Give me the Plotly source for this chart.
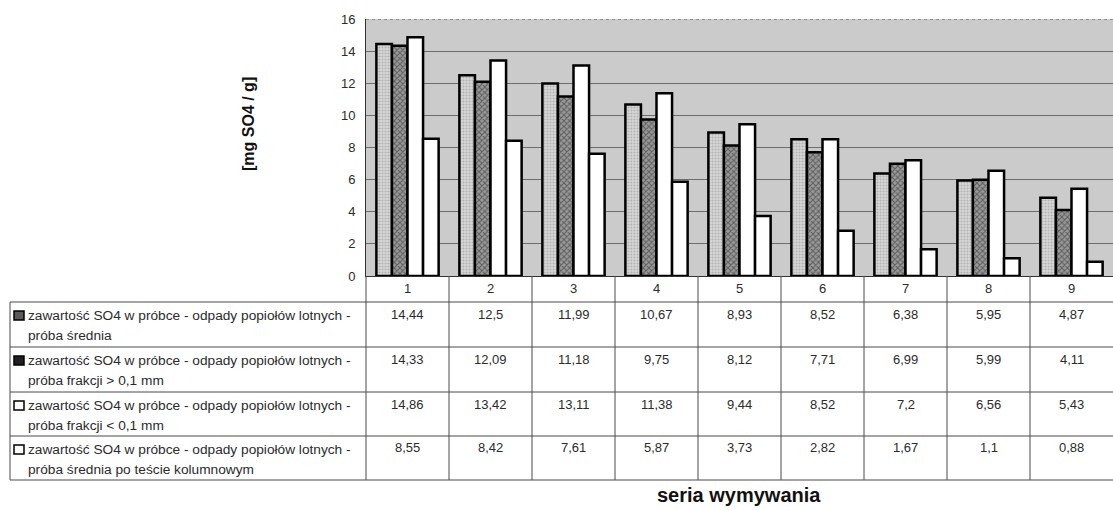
import plotly.graph_objects as go

categories = ["1", "2", "3", "4", "5", "6", "7", "8", "9"]
s_srednia = [14.44, 12.5, 11.99, 10.67, 8.93, 8.52, 6.38, 5.95, 4.87]
s_frakcja_gt = [14.33, 12.09, 11.18, 9.75, 8.12, 7.71, 6.99, 5.99, 4.11]
s_frakcja_lt = [14.86, 13.42, 13.11, 11.38, 9.44, 8.52, 7.2, 6.56, 5.43]
s_po_tescie = [8.55, 8.42, 7.61, 5.87, 3.73, 2.82, 1.67, 1.1, 0.88]

label_line1 = "zawartość SO4 w próbce - odpady popiołów lotnych -"
label_line2 = ["próba średnia", "próba frakcji &gt; 0,1 mm",
               "próba frakcji &lt; 0,1 mm", "próba średnia po teście kolumnowym"]
y_title = "[mg SO4 / g]"
x_title = "seria wymywania"

series = [s_srednia, s_frakcja_gt, s_frakcja_lt, s_po_tescie]

W, H = 1113, 510
L, T, B = 366, 19, 234
PW = W - L
PH = H - T - B
FONT = "Liberation Sans, Arial, sans-serif"
TXT = "#2b2b2b"


def px_x(px):
    return (px - L) / PW


def px_y(py):
    return (H - B - py) / PH


xs = list(range(1, len(categories) + 1))

styles = [
    dict(color="#d0d0d0", pattern=dict(shape=".", fgcolor="#8c8c8c", bgcolor="#d8d8d8", size=3, solidity=0.4)),
    dict(color="#7a7a7a", pattern=dict(shape="x", fgcolor="#202020", bgcolor="#9a9a9a", size=4, solidity=0.45)),
    dict(color="#ffffff"),
    dict(color="#ffffff"),
]

fig = go.Figure()
for vals, st in zip(series, styles):
    m = dict(st)
    m["line"] = dict(color="#000000", width=2.5)
    fig.add_trace(go.Bar(x=xs, y=vals, marker=m, showlegend=False))

fig.update_layout(
    width=W, height=H,
    margin=dict(l=L, r=0, t=T, b=B, pad=0),
    paper_bgcolor="white",
    plot_bgcolor="#cbcbcb",
    barmode="group", bargap=0.25, bargroupgap=0.0,
    font=dict(family=FONT, size=13, color=TXT),
    xaxis=dict(range=[0.5, len(categories) + 0.5], tickvals=xs, ticktext=categories,
               showgrid=False, showline=True, linecolor="#333", linewidth=1,
               ticks="", tickfont=dict(size=13, color=TXT), zeroline=False, fixedrange=True),
    yaxis=dict(range=[0, 16], dtick=2, showgrid=True, gridcolor="#6e6e6e", gridwidth=1,
               showline=True, linecolor="#333", linewidth=1, zeroline=False,
               ticks="outside", ticklen=7, tickcolor="rgba(0,0,0,0)",
               tickfont=dict(size=13, color=TXT), fixedrange=True),
)

shapes = []
ann = []
line_style = dict(color="#4a4a4a", width=1)

row_tops = [302, 347, 392, 436]
row_bottom = 480

# horizontal table lines
for py in row_tops + [row_bottom]:
    shapes.append(dict(type="line", xref="paper", yref="paper",
                       x0=px_x(10), x1=1, y0=px_y(py), y1=px_y(py), line=line_style))
# left border of label column
shapes.append(dict(type="line", xref="paper", yref="paper",
                   x0=px_x(10), x1=px_x(10), y0=px_y(302), y1=px_y(row_bottom), line=line_style))
# axis extension
shapes.append(dict(type="line", xref="paper", yref="paper",
                   x0=0, x1=0, y0=0, y1=px_y(row_bottom), line=line_style))
# category dividers
for i in range(1, len(categories)):
    shapes.append(dict(type="line", xref="x", yref="paper",
                       x0=i + 0.5, x1=i + 0.5, y0=0, y1=px_y(row_bottom), line=line_style))
# top dotted border
shapes.append(dict(type="line", xref="paper", yref="y", x0=0, x1=1, y0=16, y1=16,
                   line=dict(color="#555", width=1, dash="dot")))

key_fill = ["#5a5a5a", "#202020", "#ffffff", "#ffffff"]
for r, (top, vals) in enumerate(zip(row_tops, series)):
    # legend key
    shapes.append(dict(type="rect", xref="paper", yref="paper",
                       x0=px_x(14), x1=px_x(24), y0=px_y(top + 18), y1=px_y(top + 9),
                       fillcolor=key_fill[r], line=dict(color="#000", width=1.5)))
    ann.append(dict(xref="paper", yref="paper", x=px_x(26), y=px_y(top + 13),
                    xanchor="left", yanchor="middle", text=label_line1, showarrow=False,
                    font=dict(size=13.7, color=TXT)))
    ann.append(dict(xref="paper", yref="paper", x=px_x(26), y=px_y(top + 33),
                    xanchor="left", yanchor="middle", text=label_line2[r], showarrow=False,
                    font=dict(size=13.7, color=TXT)))
    for xi, v in zip(xs, vals):
        ann.append(dict(xref="x", yref="paper", x=xi, y=px_y(top + 12),
                        xanchor="center", yanchor="middle", text=f"{v:g}".replace(".", ","),
                        showarrow=False, font=dict(size=13, color=TXT)))

ann.append(dict(xref="paper", yref="paper", x=px_x(248), y=px_y(124), textangle=-90,
                xanchor="center", yanchor="middle", text=f"<b>{y_title}</b>", showarrow=False,
                font=dict(size=16, color="#111")))
ann.append(dict(xref="paper", yref="paper", x=px_x(739), y=px_y(495),
                xanchor="center", yanchor="middle", text=f"<b>{x_title}</b>", showarrow=False,
                font=dict(size=20, color="#111")))

fig.update_layout(shapes=shapes, annotations=ann)
fig.write_html("out.html")
